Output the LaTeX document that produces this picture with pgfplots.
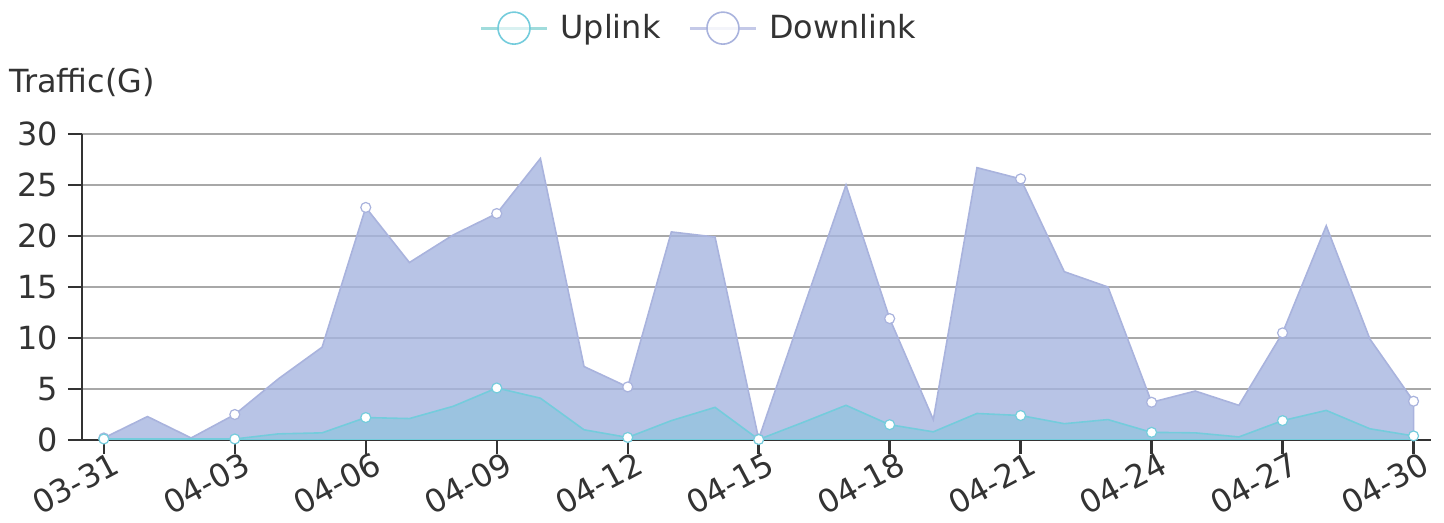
\documentclass[border=0pt]{standalone}
\usepackage{fontspec}
\setmainfont{DejaVu Sans}
\usepackage{pgfplots}
\pgfplotsset{compat=1.18}
\usepackage{pgfplotstable}

\definecolor{downfill}{HTML}{A6B5E0}
\definecolor{downline}{HTML}{A9B3DD}
\definecolor{downleg}{HTML}{C4C9E8}
\definecolor{upfill}{HTML}{89C4DC}
\definecolor{upline}{HTML}{74CCDC}
\definecolor{upleg}{HTML}{A0DCDC}
\definecolor{gridc}{HTML}{A8A8A8}
\definecolor{axc}{HTML}{333333}
\definecolor{txt}{HTML}{333333}

\pgfplotstableread{
i up down
0 0.1 0.2
1 0.1 2.3
2 0.1 0.2
3 0.1 2.5
4 0.6 6.0
5 0.7 9.1
6 2.2 22.8
7 2.1 17.4
8 3.3 20.1
9 5.1 22.2
10 4.1 27.6
11 1.0 7.2
12 0.25 5.2
13 1.9 20.4
14 3.2 19.9
15 0.05 0.1
16 1.7 12.6
17 3.4 25.0
18 1.5 11.9
19 0.8 2.0
20 2.6 26.7
21 2.4 25.6
22 1.6 16.5
23 2.0 15.0
24 0.75 3.7
25 0.7 4.8
26 0.3 3.4
27 1.9 10.5
28 2.9 21.0
29 1.1 9.9
30 0.4 3.8
}\data

\begin{document}
\begin{tikzpicture}
\path[use as bounding box] (-41bp,-41.5bp) rectangle (681bp,220bp);
\begin{axis}[
  at={(0,0)}, anchor=south west,
  scale only axis, width=674.5bp, height=153bp,
  xmin=-0.5, xmax=30.4, ymin=0, ymax=30,
  axis x line=bottom, axis y line=left,
  axis line style={draw=axc, line width=1.2bp, -},
  xtick={0,3,...,30},
  xticklabels={03-31,04-03,04-06,04-09,04-12,04-15,04-18,04-21,04-24,04-27,04-30},
  ytick={0,5,...,30},
  tick align=outside, major tick length=7bp,
  tick style={draw=axc, line width=1.2bp},
  ymajorgrids, major grid style={draw=gridc, line width=1.1bp},
  /pgf/number format/assume math mode=true,
  ticklabel style={font=\fontsize{16}{18}\selectfont, text=txt},
  xticklabel style={rotate=28, anchor=north east, inner sep=1bp, xshift=5bp, yshift=1bp},
  yticklabel style={inner sep=1bp, xshift=-4bp},
  ylabel={Traffic(G)},
  ylabel style={rotate=-90, at={(axis description cs:-0.0542,1.167)}, anchor=west, inner sep=0pt, font=\fontsize{16}{18}\selectfont, text=txt},
  legend style={at={(axis description cs:0.458,1.346)}, anchor=center, draw=none, fill=none,
    font=\fontsize{16}{18}\selectfont, text=txt,
    /tikz/every odd column/.append style={column sep=4bp},
    /tikz/every even column/.append style={column sep=12bp}},
  legend columns=2, reverse legend,
]
\addplot[draw=downline, line width=0.8bp, fill=downfill, fill opacity=0.8,
  mark=*, mark repeat=3, mark phase=1, mark size=2.5bp,
  mark options={fill=white, draw=downline, fill opacity=1, line width=0.6bp},
  legend image code/.code={
    \draw[downleg, line width=1.5bp] (0bp,0bp) -- (33bp,0bp);
    \draw[downline, fill=white, line width=0.8bp] (16.5bp,0bp) circle (8bp);}
  ] table[x=i,y=down]{\data} \closedcycle;
\addlegendentry{Downlink}
\addplot[draw=upline, line width=0.8bp, fill=upfill, fill opacity=0.6,
  mark=*, mark repeat=3, mark phase=1, mark size=2.5bp,
  mark options={fill=white, draw=upline, fill opacity=1, line width=0.6bp},
  legend image code/.code={
    \draw[upleg, line width=1.5bp] (0bp,0bp) -- (33bp,0bp);
    \draw[upline, fill=white, line width=0.8bp] (16.5bp,0bp) circle (8bp);}
  ] table[x=i,y=up]{\data} \closedcycle;
\addlegendentry{Uplink}
\end{axis}
\end{tikzpicture}
\end{document}
